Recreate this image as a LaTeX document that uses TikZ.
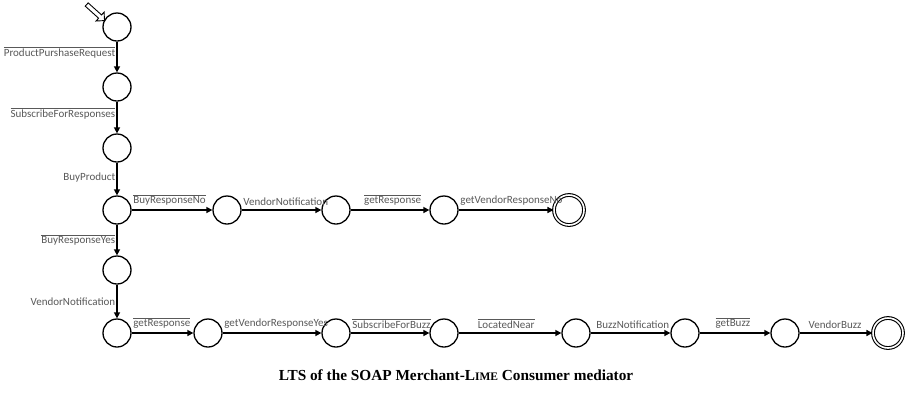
\documentclass[tikz,border=0pt]{standalone}
\usepackage{fontspec}
\setmainfont{Carlito}
\newfontfamily\capfont{Liberation Serif}
\usetikzlibrary{arrows.meta,shapes.arrows}
\newcommand{\ol}[1]{$\overline{\mbox{#1}}$}
\begin{document}
\begin{tikzpicture}[x=1pt,y=-1pt,
  st/.style={circle,draw=black,line width=1.3pt,minimum size=28pt,inner sep=0pt},
  fin/.style={circle,draw=black,line width=1.1pt,double=white,double distance=1.6pt,minimum size=30pt,inner sep=0pt},
  tr/.style={draw=black,line width=1.5pt,-{Triangle[length=6pt,width=6pt]}},
  vl/.style={anchor=east,font=\fontsize{11}{13}\selectfont,text=black!65,inner sep=0pt,xshift=-1pt},
  hl/.style={anchor=south west,font=\fontsize{11}{13}\selectfont,text=black!65,inner sep=0pt,xshift=1pt,yshift=4pt}]
\useasboundingbox[fill=white] (0,0) rectangle (909,392);
% vertical column
\node[st] (s0) at (117,27) {};
\node[st] (s1) at (117,87) {};
\node[st] (s2) at (117,148) {};
\node[st] (s3) at (117,210) {};
\node[st] (s4) at (117,270) {};
\node[st] (s5) at (117,333) {};
% first branch
\node[st] (a1) at (227,210) {};
\node[st] (a2) at (336,210) {};
\node[st] (a3) at (444,210) {};
\node[fin] (a4) at (569,210) {};
% second branch
\node[st] (b1) at (208,333) {};
\node[st] (b2) at (336,333) {};
\node[st] (b3) at (444,333) {};
\node[st] (b4) at (576,333) {};
\node[st] (b5) at (685,333) {};
\node[st] (b6) at (785,333) {};
\node[fin] (b7) at (888,333) {};
% start arrow
\coordinate (tip) at (105,21);
\node[single arrow,draw=black,line width=0.9pt,fill=white,minimum height=24pt,minimum width=12pt,single arrow head extend=2.5pt,inner sep=1pt,shape border rotate=0,rotate=-42,anchor=tip] (start) at (tip) {};
% vertical transitions
\draw[tr] (s0) -- node[vl,pos=0.34] {\ol{ProductPurshaseRequest}} (s1);
\draw[tr] (s1) -- node[vl,pos=0.36] {\ol{SubscribeForResponses}} (s2);
\draw[tr] (s2) -- node[vl,pos=0.45] {BuyProduct} (s3);
\draw[tr] (s3) -- node[vl,pos=0.5] {\ol{BuyResponseYes}} (s4);
\draw[tr] (s4) -- node[vl,pos=0.5] {VendorNotification} (s5);
% first branch transitions
\draw[tr] (s3) -- node[hl,pos=0] {\ol{BuyResponseNo}} (a1);
\draw[tr] (a1) -- node[hl,pos=0] {VendorNotification} (a2);
\draw[tr] (a2) -- node[hl,pos=0.15] {\ol{getResponse}} (a3);
\draw[tr] (a3) -- node[hl,pos=0] {getVendorResponseNo} (a4);
% second branch transitions
\draw[tr] (s5) -- node[hl,pos=0] {\ol{getResponse}} (b1);
\draw[tr] (b1) -- node[hl,pos=0] {getVendorResponseYes} (b2);
\draw[tr] (b2) -- node[hl,pos=0] {\ol{SubscribeForBuzz}} (b3);
\draw[tr] (b3) -- node[hl,pos=0.17] {\ol{LocatedNear}} (b4);
\draw[tr] (b4) -- node[hl,pos=0.05] {BuzzNotification} (b5);
\draw[tr] (b5) -- node[hl,pos=0.2] {\ol{getBuzz}} (b6);
\draw[tr] (b6) -- node[hl,pos=0.1] {VendorBuzz} (b7);
% caption
\node[font=\capfont\bfseries\fontsize{15.3}{17}\selectfont,inner sep=0pt] (cap) at (456,375) {LTS of the SOAP Merchant-L{\fontsize{11.5}{13}\selectfont IME} Consumer mediator};
\end{tikzpicture}
\end{document}
